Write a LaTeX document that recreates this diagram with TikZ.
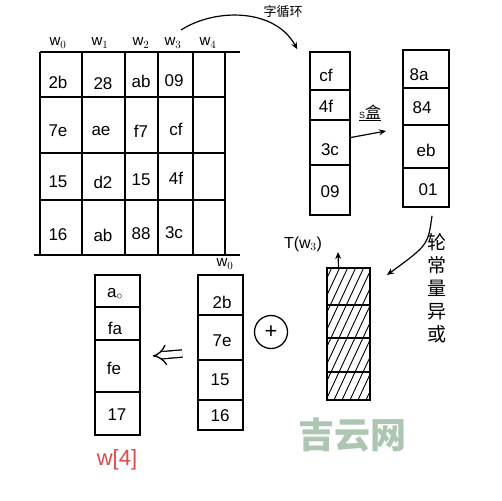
\documentclass[tikz,border=0pt]{standalone}
\usepackage{fontspec}
\setmainfont{Liberation Sans}
\newfontfamily\cjk{Noto Sans CJK SC}
\usetikzlibrary{arrows.meta}
\begin{document}
\begin{tikzpicture}[x=1pt,y=-1pt,line width=1.6pt,
  hex/.style={font=\fontsize{17}{19}\selectfont, inner sep=0pt},
  hdr/.style={font=\fontsize{15}{17}\selectfont, inner sep=0pt},
  col/.style={draw, minimum width=#1, inner sep=0pt},
  hatch/.style={line width=0.9pt},
  arr/.style={-{Stealth[length=7pt,width=6pt]}, line width=1.2pt}]
\useasboundingbox (0,0) rectangle (502,500);
\fill[white] (0,0) rectangle (502,500);

% ---- state grid ----
\draw (40,52) -- (240,52);
\draw (34,255) -- (240,255);
\foreach \x in {40,82,125,158,193,225} \draw (\x,52) -- (\x,255);
\foreach \y in {97,153,200} \draw (40,\y) -- (225,\y);
\node[hdr] (h0) at (58,43) {w$_0$};
\node[hdr] (h1) at (100,43) {w$_1$};
\node[hdr] (h2) at (141,43) {w$_2$};
\node[hdr] (h3) at (173,43) {w$_3$};
\node[hdr] (h4) at (208,43) {w$_4$};
\node[hex] (g11) at (58,82) {2b};
\node[hex] (g12) at (103,84) {28};
\node[hex] (g13) at (141,81) {ab};
\node[hex] (g14) at (174,81) {09};
\node[hex] (g21) at (58,131) {7e};
\node[hex] (g22) at (101,131) {ae};
\node[hex] (g23) at (141,131) {f7};
\node[hex] (g24) at (176,129) {cf};
\node[hex] (g31) at (58,182) {15};
\node[hex] (g32) at (103,182) {d2};
\node[hex] (g33) at (141,180) {15};
\node[hex] (g34) at (176,178) {4f};
\node[hex] (g41) at (58,235) {16};
\node[hex] (g42) at (103,235) {ab};
\node[hex] (g43) at (141,234) {88};
\node[hex] (g44) at (174,233) {3c};
\coordinate (rotstart) at (181,30);

% ---- rotated word ----
\node[col=40pt, minimum height=163pt] (c1) at (330,133.5) {};
\draw (310,90) -- (350,90);
\draw (310,120) -- (350,120);
\draw (310,165) -- (350,165);
\node[hex] (c1a) at (326,75) {cf};
\node[hex] (c1b) at (326,106) {4f};
\node[hex] (c1c) at (330,150) {3c};
\node[hex] (c1d) at (330,192) {09};
\draw[arr] (rotstart) .. controls (215,8) and (275,8) .. ([xshift=-12pt,yshift=2pt]c1.north west);
\node[font=\cjk\fontsize{13}{15}\selectfont] (rotlbl) at (283,12) {字循环};

% ---- S-box result ----
\node[col=46pt, minimum height=157pt] (c2) at (426,128.5) {};
\draw (403,88) -- (449,88);
\draw (403,125) -- (449,125);
\draw (403,168) -- (449,168);
\node[hex] (c2a) at (419,75) {8a};
\node[hex] (c2b) at (422,108) {84};
\node[hex] (c2c) at (426,150) {eb};
\node[hex] (c2d) at (428,190) {01};
\coordinate (sboxend) at (386,131);
\draw[arr] ([yshift=-4pt]c1.east) -- (sboxend);
\node[inner sep=1pt] (sbox) at (370,113) {\underline{\fontsize{9}{10}\selectfont S\fontsize{16}{18}\cjk 盒}};

% ---- T(w3) ----
\node[col=43pt, minimum height=132pt] (hc) at (348.5,334) {};
\begin{scope}
  \clip (327,268) rectangle (370,400);
  \foreach \x in {262,270,...,380} \draw[hatch] (\x,400) -- (\x+61.6,268);
\end{scope}
\draw (327,305) -- (370,305);
\draw (327,338) -- (370,338);
\draw (327,372) -- (370,372);
\coordinate (rconend) at (387,275);
\draw[arr] ([xshift=6pt,yshift=-8pt]c2.south) .. controls (428,245) .. (rconend);
\node[font=\cjk\fontsize{19}{23}\selectfont, align=center, inner sep=0pt] (rcon) at (437,288) {轮\\常\\量\\异\\或};
\coordinate (ttop) at (338,252);
\draw[arr] ([xshift=-10pt]hc.north) -- (ttop);
\node[font=\fontsize{16}{18}\selectfont] (tlbl) at (303,244) {T(w$_3$)};

% ---- XOR ----
\node[circle, draw, line width=1.3pt, minimum size=33pt, inner sep=0pt, font=\fontsize{22}{22}\selectfont] (plus) at (271,332) {+};

% ---- w0 column ----
\node[col=45pt, minimum height=155pt] (w0) at (220.5,352.5) {};
\draw (198,315) -- (243,315);
\draw (198,360) -- (243,360);
\draw (198,400) -- (243,400);
\node[hdr] (w0h) at (225,264) {w$_0$};
\node[hex] (w0a) at (222,302) {2b};
\node[hex] (w0b) at (222,341) {7e};
\node[hex] (w0c) at (220,380) {15};
\node[hex] (w0d) at (220,416) {16};

% ---- w[4] column ----
\node[col=45pt, minimum height=160pt] (w4) at (117.5,355) {};
\draw (95,307) -- (140,307);
\draw (95,340) -- (140,340);
\draw (95,392) -- (140,392);
\node[hex] (w4a) at (115,294) {a$_\circ$};
\node[hex] (w4b) at (115,328) {fa};
\node[hex] (w4c) at (114,368) {fe};
\node[hex] (w4d) at (117,415) {17};
\draw[-{Implies}, double, double distance=6pt, line width=1.3pt] ([xshift=-15pt,yshift=-1pt]w0.west) -- ([xshift=12pt,yshift=-1pt]w4.east);
\node[font=\fontsize{22}{24}\selectfont, text={rgb,255:red,224;green,72;blue,72}] (w4lbl) at (117,460) {w[4]};

% ---- watermark ----
\node[font=\cjk\bfseries\fontsize{36}{38}\selectfont, text={rgb,255:red,172;green,198;blue,178}] (wm) at (352,435) {吉云网};
\end{tikzpicture}
\end{document}
